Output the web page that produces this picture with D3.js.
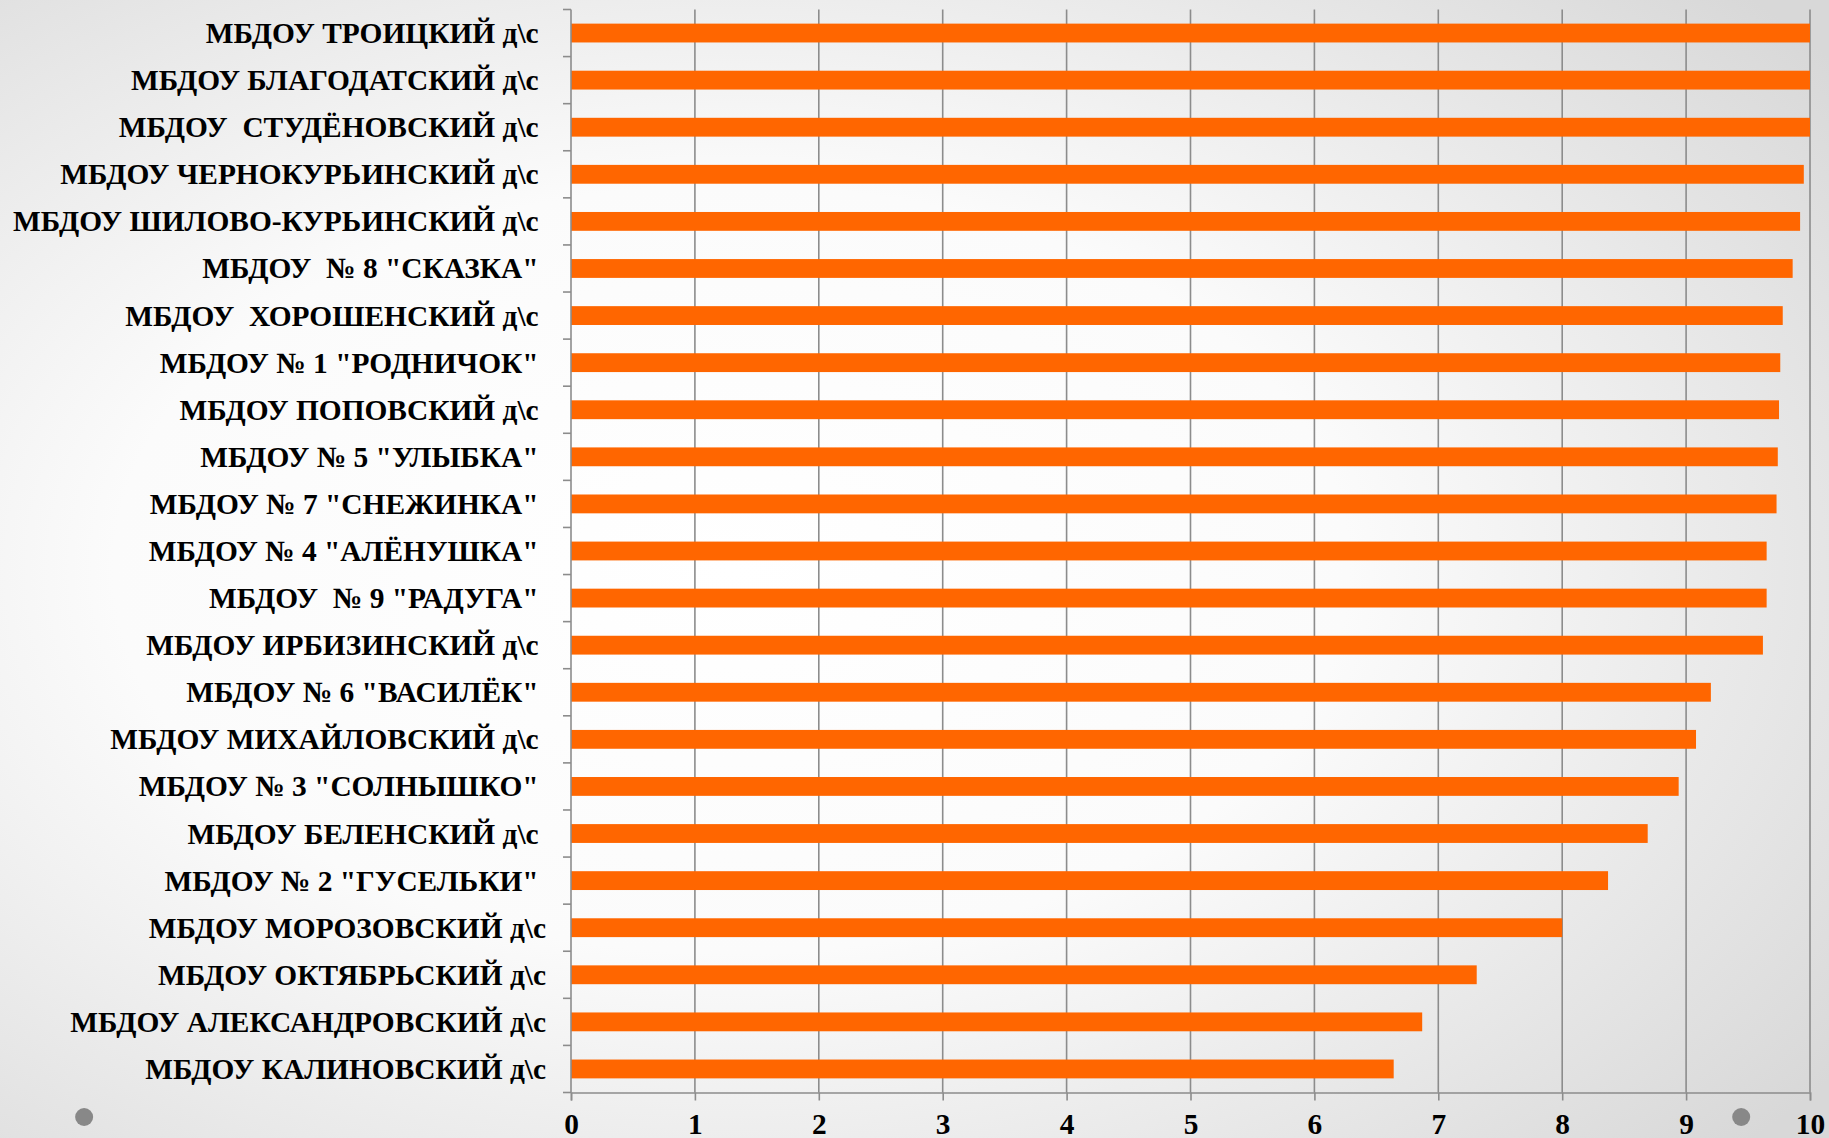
<!DOCTYPE html>
<html>
<head>
<meta charset="utf-8">
<script src="https://cdn.jsdelivr.net/npm/d3@7"></script>
<style>
    body { margin: 0; overflow: hidden; }
    text { font-family: "Liberation Serif", "Times New Roman", serif; font-weight: bold; fill: #000; }
    .cat_label { white-space: pre; font-size: 29.4px; }
</style>
</head>
<body>
<div id="paper"></div>
<script>

// chart data, top to bottom.

const schools = [
    'МБДОУ ТРОИЦКИЙ д\\с ',
    'МБДОУ БЛАГОДАТСКИЙ д\\с ',
    'МБДОУ  СТУДЁНОВСКИЙ д\\с ',
    'МБДОУ ЧЕРНОКУРЬИНСКИЙ д\\с ',
    'МБДОУ ШИЛОВО-КУРЬИНСКИЙ д\\с ',
    'МБДОУ  № 8 "СКАЗКА" ',
    'МБДОУ  ХОРОШЕНСКИЙ д\\с ',
    'МБДОУ № 1 "РОДНИЧОК" ',
    'МБДОУ ПОПОВСКИЙ д\\с ',
    'МБДОУ № 5 "УЛЫБКА" ',
    'МБДОУ № 7 "СНЕЖИНКА" ',
    'МБДОУ № 4 "АЛЁНУШКА" ',
    'МБДОУ  № 9 "РАДУГА" ',
    'МБДОУ ИРБИЗИНСКИЙ д\\с ',
    'МБДОУ № 6 "ВАСИЛЁК" ',
    'МБДОУ МИХАЙЛОВСКИЙ д\\с ',
    'МБДОУ № 3 "СОЛНЫШКО" ',
    'МБДОУ БЕЛЕНСКИЙ д\\с ',
    'МБДОУ № 2 "ГУСЕЛЬКИ" ',
    'МБДОУ МОРОЗОВСКИЙ д\\с',
    'МБДОУ ОКТЯБРЬСКИЙ д\\с',
    'МБДОУ АЛЕКСАНДРОВСКИЙ д\\с',
    'МБДОУ КАЛИНОВСКИЙ д\\с'
]

const scores = [
    10, 10, 10, 9.95, 9.92, 9.86, 9.78, 9.76, 9.75, 9.74, 9.73, 9.65,
    9.65, 9.62, 9.2, 9.08, 8.94, 8.69, 8.37, 8.0, 7.31, 6.87, 6.64
]

const x_ticks = [0, 1, 2, 3, 4, 5, 6, 7, 8, 9, 10]

// canvas and plot area.

const width = 1829, height = 1138
const plot = { left: 571, right: 1810, top: 9.5, bottom: 1092.5 }

let svg = d3.select("#paper")
    .append("svg")
    .attr("id", "canvas")
    .attr("width", width)
    .attr("height", height)

// slide background, white centre fading to grey.

let grad = svg.append("defs").append("radialGradient")
    .attr("id", "bg")
    .attr("cx", "0.4").attr("cy", "0.5").attr("r", "0.75")
grad.append("stop").attr("offset", "0").attr("stop-color", "#ffffff")
grad.append("stop").attr("offset", "0.45").attr("stop-color", "#fbfbfb")
grad.append("stop").attr("offset", "1").attr("stop-color", "#d8d8d8")

svg.append("rect")
    .attr("width", width)
    .attr("height", height)
    .style("fill", "url(#bg)")

// scales.

let x = d3.scaleLinear().domain([0, 10]).range([plot.left, plot.right])
let y = d3.scaleBand().domain(schools).range([plot.top, plot.bottom])
    .paddingInner(0.6).paddingOuter(0.3)

// vertical gridlines.

svg.selectAll(".grid")
    .data(x_ticks.slice(1))
    .join("line")
    .attr("class", "grid")
    .attr("x1", d => x(d)).attr("x2", d => x(d))
    .attr("y1", plot.top).attr("y2", plot.bottom)
    .style("stroke", "#8c8c8c")
    .style("stroke-width", 1.6)

// bars.

svg.selectAll(".bar")
    .data(schools)
    .join("rect")
    .attr("class", "bar")
    .attr("x", x(0))
    .attr("y", d => y(d))
    .attr("width", (d, i) => x(scores[i]) - x(0))
    .attr("height", y.bandwidth())
    .style("fill", "#ff6600")

// x axis.

let x_axis = d3.axisBottom(x).tickValues(x_ticks).tickSize(8).tickFormat(d3.format("d"))
let gx = svg.append("g").attr("transform", `translate(0, ${plot.bottom})`).call(x_axis)
gx.select(".domain").style("stroke", "#8c8c8c").style("stroke-width", 1.6)
gx.selectAll(".tick line").style("stroke", "#8c8c8c").style("stroke-width", 1.6)
gx.selectAll(".tick text")
    .attr("y", 0)
    .attr("dy", 0)
    .attr("transform", "translate(0, 41)")
    .style("font-size", "29.4px")
    .style("font-family", '"Liberation Serif", serif')
    .style("font-weight", "bold")
    .style("fill", "#000")

// y axis, ticks on category boundaries.

svg.append("line")
    .attr("x1", plot.left).attr("x2", plot.left)
    .attr("y1", plot.top).attr("y2", plot.bottom)
    .style("stroke", "#8c8c8c").style("stroke-width", 1.6)

let step = y.step()
svg.selectAll(".ytick")
    .data(d3.range(schools.length + 1))
    .join("line")
    .attr("class", "ytick")
    .attr("x1", plot.left - 8).attr("x2", plot.left)
    .attr("y1", i => plot.top + i * step).attr("y2", i => plot.top + i * step)
    .style("stroke", "#8c8c8c").style("stroke-width", 1.6)

svg.selectAll(".cat_label")
    .data(schools)
    .join("text")
    .attr("class", "cat_label")
    .attr("x", plot.left - 25)
    .attr("y", d => y(d) + y.bandwidth() / 2)
    .attr("dy", "0.34em")
    .attr("text-anchor", "end")
    .text(d => d)

// slide decoration dots.

svg.selectAll(".dot")
    .data([0.046, 0.952])
    .join("circle")
    .attr("class", "dot")
    .attr("cx", d => d * width)
    .attr("cy", 1117)
    .attr("r", 9)
    .style("fill", "#888")

</script>
</body>
</html>
